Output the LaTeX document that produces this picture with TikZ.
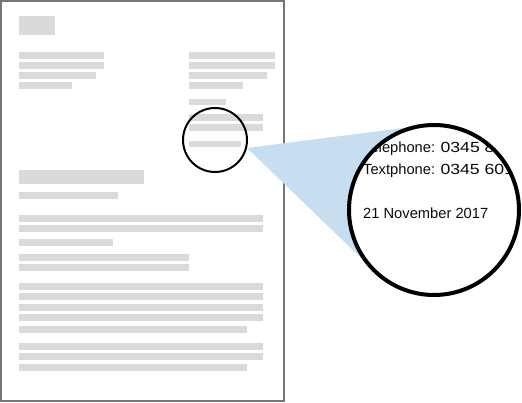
\documentclass[tikz,border=0pt]{standalone}
\usepackage{fontspec}
\usetikzlibrary{calc}
\newfontfamily\letterfont{Liberation Sans}
\definecolor{pageline}{HTML}{6F777B}
\definecolor{barfill}{HTML}{DADADA}
\definecolor{conefill}{HTML}{C6DEF0}
\definecolor{inktext}{HTML}{0B0C0C}
\newcommand{\phonenum}[1]{\scalebox{1.2}[1]{#1}}
\tikzset{
  bar/.style={fill=barfill},
  lettertext/.style={anchor=base west,inner sep=0pt,text=inktext,font=\letterfont\fontsize{14.7}{17}\selectfont}
}
\begin{document}
\begin{tikzpicture}[x=1pt,y=-1pt]
\useasboundingbox (0,0) rectangle (522,403);
% the letter
\draw[pageline,fill=white,line width=2pt] (1,1) rectangle (284,401);
\fill[bar] (19,16) rectangle (55,35);
\fill[bar] (19,52) rectangle (104,59);
\fill[bar] (19,62) rectangle (104,69);
\fill[bar] (19,72) rectangle (96,79);
\fill[bar] (19,82) rectangle (72,89);
\fill[bar] (189,52) rectangle (275,59);
\fill[bar] (189,62) rectangle (275,69);
\fill[bar] (189,72) rectangle (267,79);
\fill[bar] (189,82) rectangle (243,89);
\fill[bar] (189,99) rectangle (226,105);
\fill[bar] (189,114) rectangle (263,121);
\fill[bar] (189,124) rectangle (263,131);
\fill[bar] (189,141) rectangle (241,147);
\fill[bar] (19,170) rectangle (144,184);
\fill[bar] (19,192) rectangle (118,199);
\foreach \y/\r in {215/263,225/263,239/113,254/189,264/189,283/263,293/263,304/263,314/263,326/247,343/263,353/263,364/247}
  \fill[bar] (19,\y) rectangle (\r,\y+7);

% magnifier
\node[draw,circle,line width=2pt,minimum size=64pt,inner sep=0pt] (lens) at (215,140) {};
\node[circle,minimum size=170pt,inner sep=0pt] (zoom) at (434,210) {};
\coordinate (apex) at (lens.-14);
\fill[conefill] (apex) -- (tangent cs:node=zoom,point={(apex)},solution=1) -- (zoom.center)
  -- (tangent cs:node=zoom,point={(apex)},solution=2) -- cycle;
\fill[white] (zoom.center) circle (85);
\begin{scope}
\clip (zoom.center) circle (84);
\node[lettertext] (tel) at (363,153) {Telephone: \phonenum{0345 8}};
\node[lettertext] (textph) at (363,175) {Textphone: \phonenum{0345 601}};
\node[lettertext] (date) at (363,219) {21 November 2017};
\end{scope}
\draw[line width=4pt] (zoom.center) circle (85);
\end{tikzpicture}
\end{document}
